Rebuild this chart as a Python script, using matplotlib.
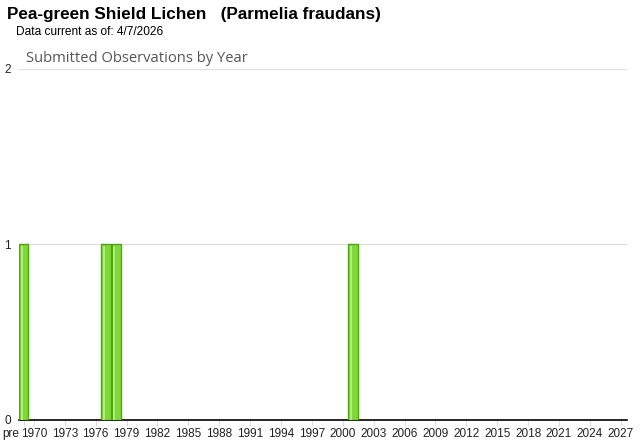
import matplotlib
matplotlib.use("Agg")
import matplotlib.pyplot as plt
import matplotlib.transforms as mtransforms
import numpy as np

# categories on the x axis: "pre" + each year 1970..2027
categories = ["pre"] + [str(y) for y in range(1970, 2028)]
# observed categories and their counts
obs_labels = ["pre", "1977", "1978", "2001"]
obs_counts = [1, 1, 1, 1]

counts = np.zeros(len(categories))
for lab, c in zip(obs_labels, obs_counts):
    counts[categories.index(lab)] = c

plt.rcParams["font.family"] = ["Liberation Sans", "DejaVu Sans"]

fig = plt.figure(figsize=(6.4, 4.42), dpi=100)
ax = fig.add_axes([0.0297, 0.0498, 0.9500, 0.7941])

x = np.arange(len(categories))
mask = counts > 0
ax.bar(x[mask], counts[mask], width=0.9, color="#80d838", edgecolor="#4aab08",
       linewidth=1.0, zorder=3)
# lighter highlight stripe inside each bar
ax.bar(x[mask] - 0.2, counts[mask] - 0.01, width=0.2, color="#b0ec80",
       linewidth=0, zorder=4)

ax.set_xlim(-0.45, 58.6)
ax.set_ylim(0, 2)
ax.set_yticks([0, 1, 2])
ax.set_yticklabels(["0", "1", "2"], fontsize=8.5, color="#222222")
ax.yaxis.grid(True, color="#dddddd", linewidth=0.8, zorder=0)
ax.tick_params(axis="y", length=0, pad=6)

tick_idx = [0] + list(range(1, len(categories), 3))
ax.set_xticks(tick_idx)
ax.set_xticklabels([categories[i] for i in tick_idx], fontsize=8.5, color="#222222")
ax.tick_params(axis="x", length=4, color="#dddddd", pad=2)
# nudge "pre" label left so it doesn't collide with 1970
pre_lab = ax.get_xticklabels()[0]
pre_lab.set_transform(pre_lab.get_transform() +
                      mtransforms.ScaledTranslation(-0.13, 0, fig.dpi_scale_trans))

for s in ["top", "right", "left"]:
    ax.spines[s].set_visible(False)
ax.spines["bottom"].set_color("#000000")
ax.spines["bottom"].set_linewidth(1.2)

fig.text(7 / 640, 1 - 15 / 442, "Pea-green Shield Lichen   (Parmelia fraudans)",
         fontsize=12.3, fontweight="bold", va="center", ha="left")
fig.text(16 / 640, 1 - 32 / 442, "Data current as of: 4/7/2026",
         fontsize=8.6, va="center", ha="left")
fig.text(26 / 640, 1 - 58 / 442, "Submitted Observations by Year",
         fontsize=10.6, va="center", ha="left", color="#555555",
         family=["Open Sans", "DejaVu Sans"])

fig.savefig("out.png", dpi=100)
